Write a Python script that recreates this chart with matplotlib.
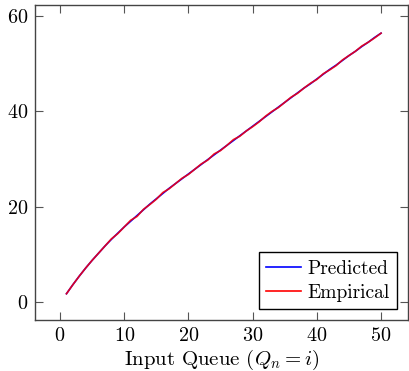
"""Input queue vs. output: predicted and empirical curves (pgfplots look)."""

import matplotlib

matplotlib.use("Agg")
import matplotlib.pyplot as plt

plt.rcParams["font.family"] = "cmr10"
plt.rcParams["mathtext.fontset"] = "cm"
plt.rcParams["axes.formatter.use_mathtext"] = True

# Queue size i = 1..50
queue = list(range(1, 51))

predicted = [
    1.8, 3.7, 5.5, 7.2, 8.8, 10.3, 11.8, 13.2, 14.5, 15.8,
    17.0, 18.2, 19.4, 20.6, 21.7, 22.8, 23.9, 24.9, 25.9, 26.9,
    27.9, 28.9, 29.9, 30.9, 31.9, 32.9, 33.9, 34.9, 35.9, 36.9,
    37.9, 38.9, 39.9, 40.9, 41.9, 42.9, 43.9, 44.9, 45.8, 46.8,
    47.8, 48.8, 49.7, 50.7, 51.7, 52.6, 53.6, 54.5, 55.5, 56.4,
]
empirical = [
    1.8, 3.7, 5.5, 7.2, 8.8, 10.3, 11.8, 13.3, 14.4, 15.8,
    17.2, 18.0, 19.5, 20.5, 21.6, 23.0, 23.8, 24.9, 26.0, 26.8,
    27.9, 29.0, 29.8, 31.1, 31.8, 32.9, 34.1, 34.8, 35.9, 36.8,
    37.8, 39.0, 40.0, 40.8, 41.9, 43.0, 43.8, 44.9, 45.9, 46.7,
    47.9, 48.7, 49.6, 50.8, 51.7, 52.6, 53.7, 54.5, 55.4, 56.4,
]

x_ticks = [0, 10, 20, 30, 40, 50]
y_ticks = [0, 20, 40, 60]

fig = plt.figure(figsize=(4.09, 3.71), dpi=100)
ax = fig.add_axes([0.0856, 0.1375, 0.912, 0.849])

ax.plot(queue, predicted, color="#0000FF", lw=1.2, label="Predicted")
ax.plot(queue, empirical, color="#FF0000", lw=1.2, alpha=0.85, label="Empirical")

ax.set_xlim(-3.9, 54.2)
ax.set_ylim(-3.7, 62.3)
ax.set_xticks(x_ticks)
ax.set_yticks(y_ticks)
ax.tick_params(direction="in", length=6, width=0.8, color="#555555",
               top=True, right=True, labelsize=14.5, pad=5)
for s in ax.spines.values():
    s.set_color("#444444")
    s.set_linewidth(1.0)

ax.set_xlabel("Input Queue ($Q_n = i$)", fontsize=15, labelpad=2)

leg = ax.legend(loc="lower right", fancybox=False, framealpha=1.0,
                edgecolor="black", fontsize=14, handlelength=1.8,
                handletextpad=0.3, borderpad=0.4, labelspacing=0.3,
                borderaxespad=0.55)
leg.get_frame().set_linewidth(1.0)
for h in leg.get_lines():
    h.set_alpha(1.0)

fig.savefig("out.png", dpi=100)
